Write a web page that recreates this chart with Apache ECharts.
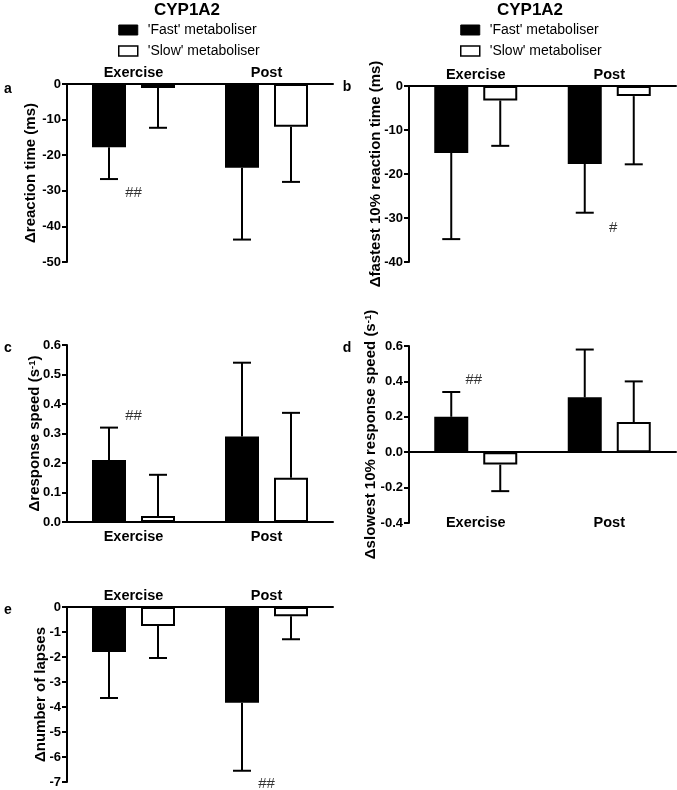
<!DOCTYPE html>
<html>
<head>
<meta charset="utf-8">
<script src="https://cdn.jsdelivr.net/npm/echarts@6/dist/echarts.min.js"></script>
<style>html,body{margin:0;padding:0;background:#fff;}#c{width:677px;height:790px;}</style>
</head>
<body>
<div id="c"></div>
<script>
const categories = ['Exercise', 'Post'];
const FAST = "'Fast' metaboliser";
const SLOW = "'Slow' metaboliser";

// panel a: Δreaction time (ms)
const aFastMean = [-17.8, -23.5];
const aFastSD = [8.9, 20.2];
const aSlowMean = [-1.1, -12.0];
const aSlowSD = [11.2, 15.5];
const aAxis = [-50, 0, 10];
const aSig = [0, -30.6, '##'];

// panel b: Δfastest 10% reaction time (ms)
const bFastMean = [-15.2, -17.7];
const bFastSD = [19.6, 11.1];
const bSlowMean = [-3.3, -2.3];
const bSlowSD = [10.3, 15.5];
const bAxis = [-40, 0, 10];
const bSig = [1, -32.3, '#'];

// panel c: Δresponse speed (s-1)
const cFastMean = [0.21, 0.29];
const cFastSD = [0.11, 0.25];
const cSlowMean = [0.02, 0.15];
const cSlowSD = [0.14, 0.22];
const cAxis = [0, 0.6, 0.1];
const cSig = [0, 0.36, '##'];

// panel d: Δslowest 10% response speed (s-1)
const dFastMean = [0.20, 0.31];
const dFastSD = [0.14, 0.27];
const dSlowMean = [-0.07, 0.17];
const dSlowSD = [0.15, 0.23];
const dAxis = [-0.4, 0.6, 0.2];
const dSig = [0, 0.41, '##'];

// panel e: Δnumber of lapses
const eFastMean = [-1.80, -3.83];
const eFastSD = [1.84, 2.72];
const eSlowMean = [-0.76, -0.37];
const eSlowSD = [1.28, 0.92];
const eAxis = [-7, 0, 1];
const eSig = [1, -7.08, '##'];

const FONT = '"Liberation Sans", Arial, sans-serif';

const panels = [
  {letter:'a', fast:aFastMean, fastSD:aFastSD, slow:aSlowMean, slowSD:aSlowSD, axis:aAxis, sig:aSig, dec:0, sigOff:[0,0],
   name:'Δreaction time (ms)', nameGap:29, grid:{left:67, top:84, width:266, height:178}, labelPos:'top', labelMargin:4, letterXY:[8,89]},
  {letter:'b', fast:bFastMean, fastSD:bFastSD, slow:bSlowMean, slowSD:bSlowSD, axis:bAxis, sig:bSig, dec:0, sigOff:[4,0],
   name:'Δfastest 10% reaction time (ms)', nameGap:26, grid:{left:409, top:86, width:267, height:176}, labelPos:'top', labelMargin:4, letterXY:[347,87]},
  {letter:'c', fast:cFastMean, fastSD:cFastSD, slow:cSlowMean, slowSD:cSlowSD, axis:cAxis, sig:cSig, dec:1, sigOff:[0,0],
   name:'Δresponse speed (s{sup|-1})', nameGap:25, grid:{left:67, top:345, width:266, height:177}, labelPos:'bottom', labelMargin:7, letterXY:[8,348]},
  {letter:'d', fast:dFastMean, fastSD:dFastSD, slow:dSlowMean, slowSD:dSlowSD, axis:dAxis, sig:dSig, dec:1, sigOff:[-2,0],
   name:'Δslowest 10% response speed (s{sup|-1})', nameGap:31, grid:{left:409, top:346, width:267, height:177}, labelPos:'split', labelMargin:-8, letterXY:[347,348]},
  {letter:'e', fast:eFastMean, fastSD:eFastSD, slow:eSlowMean, slowSD:eSlowSD, axis:eAxis, sig:eSig, dec:0, sigOff:[0,0],
   name:'Δnumber of lapses', nameGap:19, grid:{left:67, top:607, width:266, height:175}, labelPos:'top', labelMargin:4, letterXY:[8,610]}
];

const BAR_W = 34, BAR_GAP_PX = 15;
const OFFSET = (BAR_W + BAR_GAP_PX) / 2;

function renderErr(params, api) {
  const ci = api.value(0), m = api.value(1), sd = api.value(2), side = api.value(3);
  const end = m < 0 ? m - sd : m + sd;
  const p0 = api.coord([ci, m]);
  const p1 = api.coord([ci, end]);
  const x = p0[0] + side * OFFSET;
  return {type:'group', children:[
    {type:'line', shape:{x1:x, y1:p0[1], x2:x, y2:p1[1]}, style:{stroke:'#000', lineWidth:2}},
    {type:'line', shape:{x1:x-9, y1:p1[1], x2:x+9, y2:p1[1]}, style:{stroke:'#000', lineWidth:2}}
  ]};
}

const grids = [], xAxes = [], yAxes = [], series = [], graphics = [];
const catStyle = {fontSize:14.5, fontWeight:'bold', color:'#000', fontFamily:FONT};
const tickStyle = {fontSize:13, fontWeight:'bold', color:'#000', fontFamily:FONT};
const lineStyle = {color:'#000', width:2};

panels.forEach((p, i) => {
  grids.push(Object.assign({outerBoundsMode:'none', containLabel:false}, p.grid));
  const xi = xAxes.length;
  if (p.labelPos === 'split') {
    xAxes.push({type:'category', gridIndex:i, data:categories, position:'bottom',
      axisLine:{show:true, onZero:true, lineStyle}, axisTick:{show:false}, axisLabel:{show:false}});
    xAxes.push({type:'category', gridIndex:i, data:categories, position:'bottom',
      axisLine:{show:false, onZero:false}, axisTick:{show:false},
      axisLabel:Object.assign({margin:p.labelMargin}, catStyle)});
  } else {
    xAxes.push({type:'category', gridIndex:i, data:categories, position:p.labelPos,
      axisLine:{show:true, onZero:false, lineStyle}, axisTick:{show:false},
      axisLabel:Object.assign({margin:p.labelMargin}, catStyle)});
  }
  yAxes.push({type:'value', gridIndex:i, min:p.axis[0], max:p.axis[1], interval:p.axis[2],
    name:p.name, nameLocation:'middle', nameRotate:90, nameGap:p.nameGap, nameMoveOverlap:false,
    nameTextStyle:{fontSize:15, fontWeight:'bold', color:'#000', fontFamily:FONT,
      rich:{sup:{fontSize:9.5, fontWeight:'bold', color:'#000', fontFamily:FONT, verticalAlign:'top'}}},
    axisLine:{show:true, lineStyle}, axisTick:{show:true, length:5, lineStyle},
    splitLine:{show:false},
    axisLabel:Object.assign({margin:6, formatter:v => (Math.abs(v) < 1e-9 ? 0 : v).toFixed(p.dec)}, tickStyle)});
  const common = {xAxisIndex:xi, yAxisIndex:i};
  series.push(Object.assign({type:'bar', name:FAST, data:p.fast, barWidth:BAR_W, barGap:(BAR_GAP_PX/BAR_W*100)+'%',
    itemStyle:{color:'#000', borderColor:'#000', borderWidth:2}, silent:true}, common));
  series.push(Object.assign({type:'bar', name:SLOW, data:p.slow, barWidth:BAR_W, barGap:(BAR_GAP_PX/BAR_W*100)+'%',
    itemStyle:{color:'#fff', borderColor:'#000', borderWidth:2}, silent:true}, common));
  const errData = [];
  p.fast.forEach((m, k) => errData.push([k, m, p.fastSD[k], -1]));
  p.slow.forEach((m, k) => errData.push([k, m, p.slowSD[k], 1]));
  series.push(Object.assign({type:'custom', renderItem:renderErr, data:errData, encode:{x:0, y:1}, silent:true, z:5, clip:false}, common));
  series.push(Object.assign({type:'scatter', data:[[p.sig[0], p.sig[1]]], symbolSize:1, clip:false, silent:true,
    itemStyle:{color:'transparent'},
    label:{show:true, position:'inside', offset:p.sigOff, formatter:p.sig[2], fontSize:15, color:'#000', fontFamily:FONT}}, common));
  graphics.push({type:'text', x:p.letterXY[0], y:p.letterXY[1],
    style:{text:p.letter, font:'bold 14px ' + FONT, fill:'#000', textAlign:'center', textVerticalAlign:'middle'}});
});

[187, 530].forEach(cx => graphics.push({type:'text', x:cx, y:10,
  style:{text:'CYP1A2', font:'bold 17px ' + FONT, fill:'#000', textAlign:'center', textVerticalAlign:'middle'}}));

const legendBase = {orient:'vertical', top:23, icon:'rect', itemWidth:19, itemHeight:10, itemGap:7,
  selectedMode:false, padding:0,
  textStyle:{fontSize:14, color:'#000', fontFamily:FONT, padding:[0,0,0,5]},
  data:[{name:FAST, itemStyle:{color:'#000', borderColor:'#000', borderWidth:1}},
        {name:SLOW, itemStyle:{color:'#fff', borderColor:'#000', borderWidth:1.5}}]};

const option = {
  animation:false,
  backgroundColor:'#fff',
  legend:[Object.assign({left:118}, legendBase), Object.assign({left:460}, legendBase)],
  grid:grids, xAxis:xAxes, yAxis:yAxes, series:series, graphic:graphics
};

const chart = echarts.init(document.getElementById('c'), null, {renderer:'canvas'});
chart.setOption(option);
</script>
</body>
</html>
